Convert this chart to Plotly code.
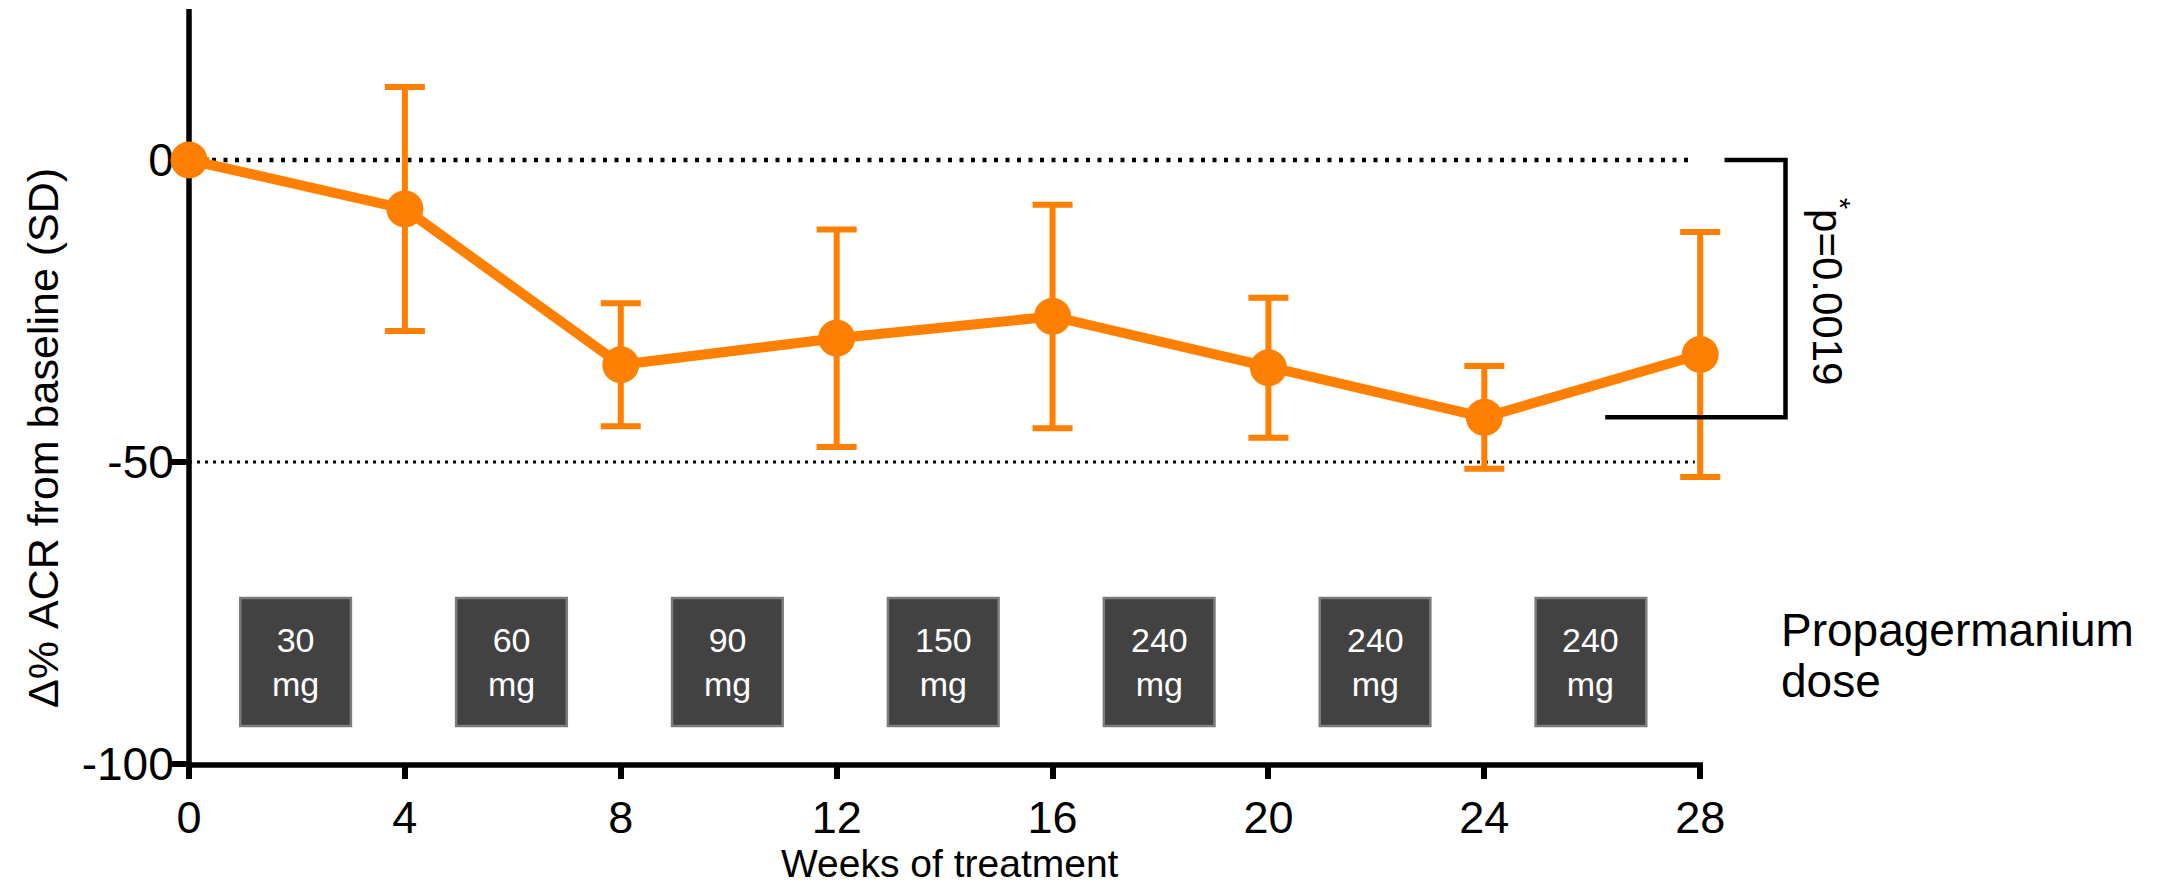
import plotly.graph_objects as go

# ---------------- data ----------------
weeks = [0, 4, 8, 12, 16, 20, 24, 28]
mean_change = [0, -8.1, -33.9, -29.5, -25.9, -34.4, -42.6, -32.2]
sd_change = [None, 20.2, 10.2, 18.0, 18.5, 11.6, 8.5, 20.3]

dose_weeks = [2, 6, 10, 14, 18, 22, 26]
dose_mg = ["30", "60", "90", "150", "240", "240", "240"]

x_tick_vals = [0, 4, 8, 12, 16, 20, 24, 28]
y_tick_vals = [-100, -50, 0]
y_tick_text = ["-100", "-50", "0"]
ref_lines = [0, -50]
p_label = "p=0.0019"

# ---------------- layout constants ----------------
W, H = 2172, 888
PX_PER_WEEK = 53.96
PL, PT, PB = 189, 9, 764
X_AXIS_END = 28          # visible x-axis line ends here
XR = [0, 28.7]           # a little room so the last error bar isn't clipped
YR = [-100, 25]
PR = PL + (XR[1] - XR[0]) * PX_PER_WEEK
ORANGE = "#FF7F00"
FONT = "Liberation Sans, Arial, Helvetica, sans-serif"
AX_W = 5.5


def px_x(px):
    return (px - PL) / (PR - PL)


def px_y(py):
    return (PB - py) / (PB - PT)


def wk_x(w):
    return (w - XR[0]) / (XR[1] - XR[0])


def val_y(v):
    return (v - YR[0]) / (YR[1] - YR[0])


fig = go.Figure()

fig.add_trace(go.Scatter(
    x=weeks, y=mean_change,
    mode="lines+markers",
    line=dict(color=ORANGE, width=10),
    marker=dict(color=ORANGE, size=37, line=dict(width=0)),
    error_y=dict(type="data", array=sd_change, visible=True,
                 color=ORANGE, thickness=6, width=20),
    cliponaxis=False,
    showlegend=False,
))

shapes = []
# y-axis line (under the markers)
shapes.append(dict(type="line", xref="paper", yref="paper",
                   x0=0, x1=0, y0=-(AX_W / 2 + 1) / (PB - PT), y1=1,
                   layer="below", line=dict(color="black", width=AX_W)))
# x-axis line (0 -> 28 only)
shapes.append(dict(type="line", xref="paper", yref="paper",
                   x0=wk_x(0), x1=wk_x(X_AXIS_END) + (AX_W / 2) / (PR - PL),
                   y0=-1.0 / (PB - PT), y1=-1.0 / (PB - PT), layer="above",
                   line=dict(color="black", width=AX_W)))

# dotted reference lines
shapes.append(dict(type="line", xref="x", yref="y", x0=0, x1=27.83,
                   y0=ref_lines[0], y1=ref_lines[0], layer="below",
                   line=dict(color="black", width=4.5, dash="4px,7.5px")))
shapes.append(dict(type="line", xref="x", yref="y", x0=0, x1=27.9,
                   y0=ref_lines[1], y1=ref_lines[1], layer="below",
                   line=dict(color="black", width=3, dash="3px,5px")))

# dose boxes
BOX_TOP, BOX_BOT = -72.5, -93.7
annotations = []
for w, d in zip(dose_weeks, dose_mg):
    shapes.append(dict(type="rect", xref="x", yref="y",
                       x0=w - 1.05, x1=w + 1.0, y0=BOX_BOT, y1=BOX_TOP,
                       fillcolor="#424242", line=dict(color="#7c7c7c", width=2.5),
                       layer="above"))
    annotations.append(dict(x=w - 0.025, y=(BOX_TOP + BOX_BOT) / 2, xref="x", yref="y",
                            text=f"{d}<br>mg", showarrow=False,
                            font=dict(family=FONT, size=34, color="white"),
                            xanchor="center", yanchor="middle"))

# significance bracket (weeks 0 -> 24 level)
bx_top_left, bx_right, bx_bot_left = 28.45, 29.58, 26.24
path = (f"M {wk_x(bx_top_left)},{val_y(mean_change[0])} "
        f"L {wk_x(bx_right)},{val_y(mean_change[0])} "
        f"L {wk_x(bx_right)},{val_y(mean_change[6])} "
        f"L {wk_x(bx_bot_left)},{val_y(mean_change[6])}")
shapes.append(dict(type="path", xref="paper", yref="paper", path=path,
                   line=dict(color="black", width=4.5), layer="above"))

annotations.append(dict(x=px_x(1830), y=px_y(292), xref="paper", yref="paper",
                        text="<sup>*</sup>" + p_label, textangle=90, showarrow=False,
                        font=dict(family=FONT, size=42, color="black"),
                        xanchor="center", yanchor="middle"))

# axis titles
annotations.append(dict(x=px_x(43), y=px_y(438), xref="paper", yref="paper",
                        text="Δ% ACR from baseline (SD)", textangle=-90, showarrow=False,
                        font=dict(family=FONT, size=43, color="black"),
                        xanchor="center", yanchor="middle"))
annotations.append(dict(x=px_x(950), y=px_y(863), xref="paper", yref="paper",
                        text="Weeks of treatment", showarrow=False,
                        font=dict(family=FONT, size=39, color="black"),
                        xanchor="center", yanchor="middle"))

# dose legend text
annotations.append(dict(x=px_x(1779), y=px_y(630), xref="paper", yref="paper",
                        text="Propagermanium", showarrow=False,
                        font=dict(family=FONT, size=46, color="black"),
                        xanchor="left", yanchor="middle"))
annotations.append(dict(x=px_x(1779), y=px_y(681), xref="paper", yref="paper",
                        text="dose", showarrow=False,
                        font=dict(family=FONT, size=46, color="black"),
                        xanchor="left", yanchor="middle"))

fig.update_layout(
    width=W, height=H,
    margin=dict(l=PL, r=W - PR, t=PT, b=H - PB, pad=0),
    paper_bgcolor="white", plot_bgcolor="rgba(0,0,0,0)",
    font=dict(family=FONT, color="black"),
    shapes=shapes, annotations=annotations,
    xaxis=dict(range=XR, tickvals=x_tick_vals, ticks="outside", ticklen=14,
               tickwidth=AX_W, tickcolor="black", showline=False,
               showgrid=False, zeroline=False,
               tickfont=dict(family=FONT, size=45, color="black"),
               layer="below traces", fixedrange=True),
    yaxis=dict(range=YR, tickvals=y_tick_vals, ticktext=y_tick_text,
               ticks="outside", ticklen=17, tickwidth=AX_W, tickcolor="black",
               showline=False, showgrid=False, ticklabelstandoff=-12,
               zeroline=False, tickfont=dict(family=FONT, size=46, color="black"),
               layer="below traces", fixedrange=True),
)

fig.write_html("out.html", config={"displayModeBar": False},
               post_script="document.body.style.margin='0';document.body.style.overflow='hidden';")
